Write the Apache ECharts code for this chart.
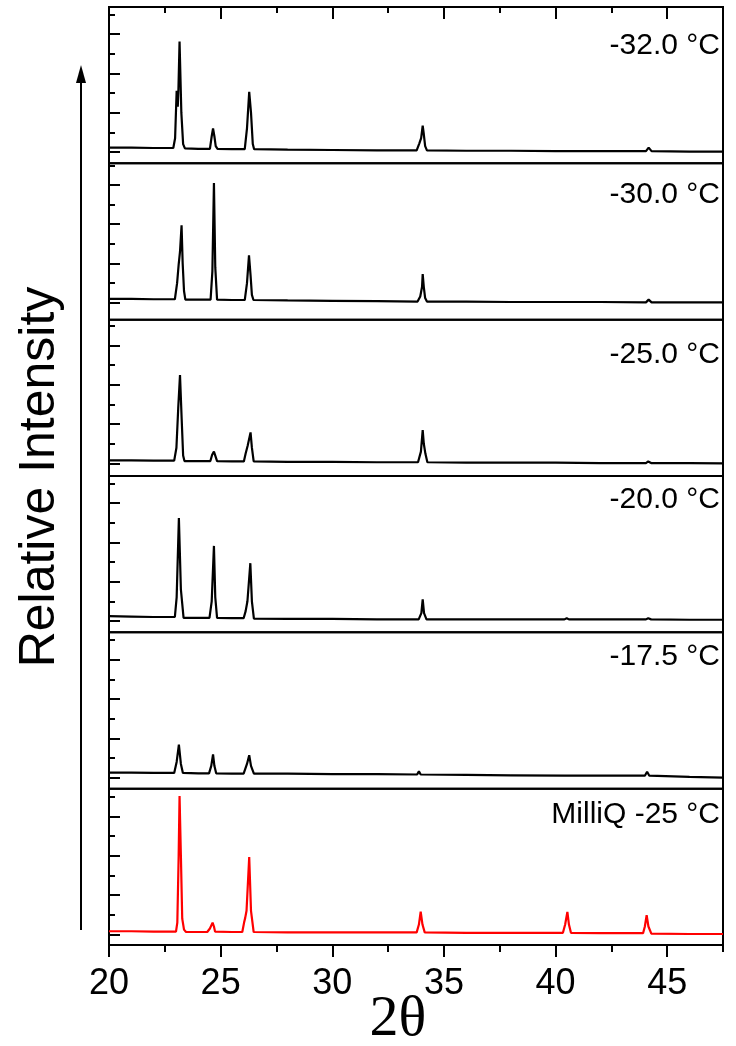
<!DOCTYPE html>
<html><head><meta charset="utf-8">
<script src="https://cdn.jsdelivr.net/npm/echarts@6/dist/echarts.min.js"></script>
<style>html,body{margin:0;padding:0;background:#fff}#c{width:736px;height:1046px}</style>
</head><body><div id="c"></div>
<script>
// ---- data ----
const panelLabels = ['-32.0 °C', '-30.0 °C', '-25.0 °C', '-20.0 °C', '-17.5 °C', 'MilliQ -25 °C'];
const xMajorTicks = [20, 25, 30, 35, 40, 45];
const xMinorTicks = [22.5, 27.5, 32.5, 37.5, 42.5, 47.5];
const yMajorTicks = [0, 1, 2, 3];
const yMinorTicks = [0.5, 1.5, 2.5, 3.5];
const xAxisTitle = '2θ';
const yAxisTitle = 'Relative Intensity';

const xrd_m32 = [[20,0.11],[21,0.11],[22,0.10],[22.88,0.10],[22.96,0.35],[23.03,1.56],[23.08,1.15],[23.11,1.6],[23.16,2.81],[23.24,1.0],[23.32,0.2],[23.40,0.09],[24.0,0.08],[24.52,0.08],[24.60,0.4],[24.66,0.60],[24.72,0.40],[24.78,0.15],[24.86,0.08],[25.5,0.07],[26.08,0.07],[26.18,0.6],[26.28,1.53],[26.36,1.0],[26.44,0.2],[26.50,0.07],[28,0.06],[30,0.05],[32,0.04],[33.78,0.04],[33.9,0.22],[33.98,0.35],[34.05,0.67],[34.10,0.45],[34.16,0.15],[34.24,0.04],[36,0.03],[38,0.03],[40,0.02],[42,0.02],[44.05,0.02],[44.17,0.11],[44.3,0.02],[46,0.01],[47.5,0.01]];
const xrd_m30 = [[20,0.10],[21,0.10],[22,0.09],[22.95,0.09],[23.05,0.5],[23.12,0.97],[23.18,1.3],[23.25,1.97],[23.30,1.0],[23.36,0.3],[23.42,0.08],[24.0,0.08],[24.55,0.08],[24.63,0.8],[24.70,3.05],[24.76,0.9],[24.84,0.08],[25.5,0.07],[26.08,0.07],[26.18,0.5],[26.27,1.21],[26.34,0.7],[26.40,0.2],[26.47,0.07],[28,0.06],[30,0.05],[32,0.04],[33.82,0.03],[33.94,0.16],[34.02,0.4],[34.05,0.73],[34.10,0.4],[34.16,0.12],[34.24,0.03],[36,0.03],[38,0.02],[40,0.02],[42,0.02],[44.05,0.01],[44.17,0.08],[44.3,0.01],[46,0.01],[47.5,0.01]];
const xrd_m25 = [[20,0.08],[21,0.08],[22,0.07],[22.92,0.07],[23.02,0.4],[23.10,1.4],[23.18,2.25],[23.25,1.2],[23.32,0.2],[23.38,0.06],[24.0,0.06],[24.54,0.06],[24.62,0.22],[24.70,0.30],[24.76,0.2],[24.84,0.06],[25.5,0.05],[26.04,0.05],[26.12,0.25],[26.21,0.45],[26.34,0.79],[26.40,0.4],[26.48,0.05],[28,0.04],[30,0.04],[32,0.03],[33.84,0.03],[33.97,0.3],[34.05,0.85],[34.10,0.5],[34.17,0.25],[34.26,0.03],[36,0.02],[38,0.02],[40,0.02],[42,0.01],[44.05,0.01],[44.15,0.05],[44.28,0.01],[46,0.01],[47.5,0.0]];
const xrd_m20 = [[20,0.12],[21,0.11],[22,0.10],[22.95,0.10],[23.03,0.6],[23.13,2.62],[23.22,0.8],[23.34,0.08],[24.0,0.08],[24.50,0.08],[24.60,0.5],[24.70,1.91],[24.76,0.6],[24.84,0.08],[25.5,0.07],[26.03,0.07],[26.12,0.25],[26.20,0.5],[26.33,1.47],[26.40,0.5],[26.49,0.06],[28,0.05],[30,0.05],[32,0.04],[33.87,0.04],[33.99,0.2],[34.05,0.55],[34.11,0.2],[34.22,0.04],[36,0.04],[38,0.04],[40.4,0.04],[40.5,0.07],[40.6,0.04],[42,0.04],[44.05,0.04],[44.15,0.07],[44.28,0.04],[46,0.03],[47.5,0.03]];
const xrd_m175 = [[20,0.13],[21,0.13],[22,0.12],[22.92,0.12],[23.03,0.4],[23.13,0.84],[23.22,0.35],[23.31,0.12],[24.0,0.11],[24.48,0.11],[24.58,0.3],[24.66,0.59],[24.72,0.3],[24.80,0.11],[25.5,0.10],[26.03,0.10],[26.18,0.35],[26.28,0.57],[26.36,0.3],[26.49,0.10],[28,0.10],[30,0.09],[32,0.09],[33.8,0.08],[33.88,0.16],[33.96,0.08],[36,0.07],[38,0.06],[40.4,0.05],[40.47,0.07],[40.55,0.05],[42,0.05],[44.0,0.05],[44.1,0.15],[44.2,0.05],[46,0.02],[47.5,0.0]];
const xrd_milliq = [[20,0.08],[21,0.08],[22,0.07],[23.0,0.07],[23.06,0.3],[23.12,2.0],[23.16,3.52],[23.22,2.0],[23.28,0.4],[23.36,0.12],[23.45,0.06],[24.0,0.06],[24.40,0.06],[24.52,0.15],[24.64,0.30],[24.70,0.2],[24.75,0.07],[25.5,0.06],[25.97,0.06],[26.05,0.3],[26.10,0.42],[26.16,0.6],[26.28,1.97],[26.36,0.6],[26.48,0.06],[28,0.05],[30,0.05],[32,0.05],[33.78,0.05],[33.88,0.25],[33.96,0.58],[34.04,0.25],[34.14,0.05],[36,0.04],[38,0.04],[40.33,0.04],[40.43,0.25],[40.53,0.57],[40.60,0.25],[40.69,0.04],[42,0.03],[43.92,0.03],[44.0,0.2],[44.08,0.49],[44.16,0.2],[44.29,0.02],[46,0.01],[47.5,0.01]];

const panelSeries = [xrd_m32, xrd_m30, xrd_m25, xrd_m20, xrd_m175, xrd_milliq];
const yMins = [-0.29, -0.43, -0.32, -0.29, -0.28, -0.27];
const ySpan = 3.98;

// ---- build ----
const N = panelSeries.length, top0 = 7, ph = 156.33;
const lineColors = ['#000', '#000', '#000', '#000', '#000', '#ff0000'];
const grids = [], xAxes = [], yAxes = [], series = [], titles = [];
const labelCenters = [46, 195, 355, 500, 657, 815];
for (let i = 0; i < N; i++) {
  const last = i === N - 1;
  grids.push({left: 109, right: 13, top: top0 + i * ph, height: ph, show: true, borderColor: '#000', borderWidth: 2});
  const xi = xAxes.length;
  xAxes.push({gridIndex: i, type: 'value', min: 20, max: 47.5, position: 'bottom',
    axisLine: {show: false, onZero: false},
    axisTick: {show: last, inside: false, length: 12, lineStyle: {color: '#000', width: 2}, customValues: xMajorTicks},
    axisLabel: {show: last, customValues: xMajorTicks, margin: 21, fontSize: 36, fontFamily: 'Liberation Sans', color: '#000'},
    splitLine: {show: false}});
  if (last) {
    xAxes.push({gridIndex: i, type: 'value', min: 20, max: 47.5, position: 'bottom',
      axisLine: {show: false, onZero: false},
      axisTick: {show: true, inside: false, length: 7, lineStyle: {color: '#000', width: 2}, customValues: xMinorTicks},
      axisLabel: {show: false}, splitLine: {show: false}});
  }
  if (i === 0) {
    xAxes.push({gridIndex: i, type: 'value', min: 20, max: 47.5, position: 'top',
      axisLine: {show: false, onZero: false},
      axisTick: {show: true, inside: true, length: 12, lineStyle: {color: '#000', width: 2}, customValues: xMajorTicks},
      axisLabel: {show: false}, splitLine: {show: false}});
    xAxes.push({gridIndex: i, type: 'value', min: 20, max: 47.5, position: 'top',
      axisLine: {show: false, onZero: false},
      axisTick: {show: true, inside: true, length: 6, lineStyle: {color: '#000', width: 2}, customValues: xMinorTicks},
      axisLabel: {show: false}, splitLine: {show: false}});
  }
  const ymin = yMins[i], ymax = yMins[i] + ySpan;
  const yi = yAxes.length;
  yAxes.push({gridIndex: i, type: 'value', min: ymin, max: ymax, position: 'left',
    axisLine: {show: false, onZero: false},
    axisTick: {show: true, inside: true, length: 11, lineStyle: {color: '#000', width: 2}, customValues: yMajorTicks.filter(v => v >= ymin && v <= ymax)},
    axisLabel: {show: false}, splitLine: {show: false}});
  yAxes.push({gridIndex: i, type: 'value', min: ymin, max: ymax, position: 'left',
    axisLine: {show: false, onZero: false},
    axisTick: {show: true, inside: true, length: 6, lineStyle: {color: '#000', width: 2}, customValues: yMinorTicks.filter(v => v >= ymin && v <= ymax)},
    axisLabel: {show: false}, splitLine: {show: false}});
  series.push({type: 'line', xAxisIndex: xi, yAxisIndex: yi, data: panelSeries[i], showSymbol: false, symbol: 'none',
    lineStyle: {color: lineColors[i], width: 2.2}, itemStyle: {color: lineColors[i]}, animation: false, silent: true});
  titles.push({text: panelLabels[i], right: 16, top: labelCenters[i] - 15, padding: 0,
    textStyle: {fontSize: 30, fontWeight: 'normal', fontFamily: 'Liberation Sans', color: '#000'}});
}

const chart = echarts.init(document.getElementById('c'), null, {renderer: 'canvas'});
chart.setOption({
  animation: false,
  backgroundColor: '#fff',
  title: titles,
  grid: grids,
  xAxis: xAxes,
  yAxis: yAxes,
  series: series,
  graphic: [
    {type: 'line', shape: {x1: 81, y1: 930, x2: 81, y2: 80}, style: {stroke: '#000', lineWidth: 2}},
    {type: 'polygon', shape: {points: [[81, 65], [76, 83], [86, 83]]}, style: {fill: '#000'}},
    {type: 'text', x: 40, y: 477, rotation: Math.PI / 2,
      style: {text: yAxisTitle, font: '50px "Liberation Sans"', fill: '#000', textAlign: 'center', textVerticalAlign: 'middle'}},
    {type: 'text', x: 398, y: 1020,
      style: {text: xAxisTitle, font: '58px "Liberation Serif"', fill: '#000', textAlign: 'center', textVerticalAlign: 'middle'}}
  ]
});
</script>
</body></html>
